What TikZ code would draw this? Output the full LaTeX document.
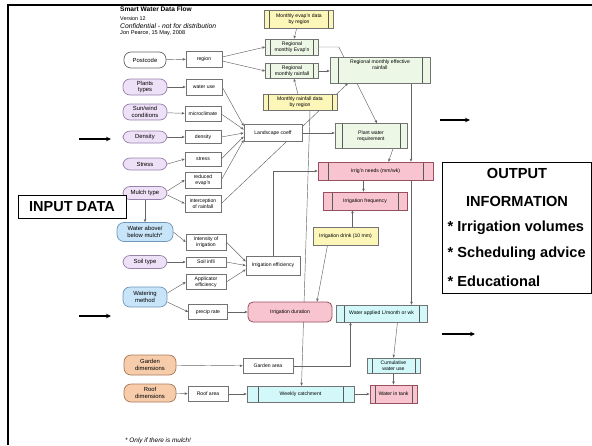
\documentclass[tikz,border=0pt]{standalone}
\usepackage{fontspec}
\setmainfont{Liberation Sans}
\usetikzlibrary{arrows.meta,calc}
\pgfdeclarelayer{bg}
\pgfsetlayers{bg,main}
\definecolor{purpleF}{RGB}{238,224,246}
\definecolor{purpleD}{RGB}{150,130,170}
\definecolor{blueF}{RGB}{200,228,248}
\definecolor{blueD}{RGB}{110,150,185}
\definecolor{orangeF}{RGB}{246,204,170}
\definecolor{orangeD}{RGB}{170,120,90}
\definecolor{pinkF}{RGB}{248,196,208}
\definecolor{pinkD}{RGB}{150,80,95}
\definecolor{greenF}{RGB}{236,247,230}
\definecolor{yellowF}{RGB}{253,246,185}
\definecolor{cyanF}{RGB}{210,248,250}
\definecolor{lineC}{RGB}{100,100,100}
\begin{document}
\begin{tikzpicture}[x=1pt,y=-1pt,
  lbl/.style={font=\fontsize{5.1}{5.9}\selectfont, align=center, inner sep=0.5pt},
  inp/.style={lbl, font=\fontsize{5.9}{6.5}\selectfont, draw=gray!80!black, rounded corners=7pt, minimum width=44pt, minimum height=16pt, line width=0.7pt},
  box/.style={lbl, draw=gray!90!black, fill=white, minimum height=16pt, line width=0.5pt},
  sidebars/.style={path picture={
     \draw[gray!70!black, line width=0.4pt] ([xshift=#1]path picture bounding box.north west) -- ([xshift=#1]path picture bounding box.south west);
     \draw[gray!70!black, line width=0.4pt] ([xshift=-#1]path picture bounding box.north east) -- ([xshift=-#1]path picture bounding box.south east);}},
  conn/.style={-{Stealth[length=3.2pt,width=2.6pt]}, lineC, line width=0.45pt},
  bigarrow/.style={-{Stealth[length=5pt,width=4.5pt]}, black, line width=1.3pt},
  bigtxt/.style={font=\fontsize{14.6}{16}\bfseries\selectfont, inner sep=0pt}
]
\useasboundingbox (0,0) rectangle (592,445);
% frame
\draw[black, line width=2pt] (8,445) -- (8,5) -- (592,5);

% title
\node[anchor=west, inner sep=0pt, font=\fontsize{6.6}{7}\bfseries\selectfont] (t1) at (120,9.5) {Smart Water Data Flow};
\node[anchor=west, inner sep=0pt, font=\fontsize{5.4}{6}\selectfont] (t2) at (120,19) {Version 12};
\node[anchor=west, inner sep=0pt, font=\fontsize{6.8}{7}\itshape\selectfont] (t3) at (120,26.5) {Confidential - not for distribution};
\node[anchor=west, inner sep=0pt, font=\fontsize{5.6}{6}\selectfont] (t4) at (120,33.5) {Jon Pearce, 15 May, 2008};
\node[anchor=west, inner sep=0pt, font=\fontsize{6.4}{7}\itshape\selectfont] (foot) at (125,440.5) {* Only if there is mulch!};

% input nodes
\node[inp, fill=white, minimum width=42pt] (postcode) at (145,60) {Postcode};
\node[inp, fill=purpleF, draw=purpleD] (plants) at (145,87) {Plants\\types};
\node[inp, fill=purpleF, draw=purpleD] (sunwind) at (145,112) {Sun/wind\\conditions};
\node[inp, fill=purpleF, draw=purpleD, minimum height=12pt] (densityIn) at (145,137) {Density};
\node[inp, fill=purpleF, draw=purpleD, minimum height=12pt] (stressIn) at (145,164) {Stress};
\node[inp, fill=purpleF, draw=purpleD, minimum height=13pt] (mulch) at (145,193) {Mulch type};
\node[inp, fill=blueF, draw=blueD, minimum width=56pt, minimum height=19pt] (wab) at (145,232) {Water above/\\below mulch*};
\node[inp, fill=purpleF, draw=purpleD, minimum height=13pt] (soil) at (145,262) {Soil type};
\node[inp, fill=blueF, draw=blueD, minimum height=20pt] (watering) at (145,297) {Watering\\method};
\node[inp, fill=orangeF, draw=orangeD, minimum width=52pt, minimum height=20pt] (gardenIn) at (150,365) {Garden\\dimensions};
\node[inp, fill=orangeF, draw=orangeD, minimum width=52pt, minimum height=18pt] (roofIn) at (150,393) {Roof\\dimensions};

% middle boxes
\node[box, minimum width=36pt] (region) at (204,59) {region};
\node[box, minimum width=36pt] (wateruse) at (204,87) {water use};
\node[box, minimum width=36pt, minimum height=15pt] (micro) at (203,114) {microclimate};
\node[box, minimum width=36pt, minimum height=13pt] (dens) at (203,137) {density};
\node[box, minimum width=36pt, minimum height=14pt] (stressB) at (203,159) {stress};
\node[box, minimum width=36pt] (redev) at (203,180) {reduced\\evap'n};
\node[box, minimum width=36pt, minimum height=17pt] (intercept) at (203,203.5) {interception\\of rainfall};
\node[box, minimum width=40pt] (intensity) at (206,242) {Intensity of\\irrigation};
\node[box, minimum width=40pt, minimum height=10pt] (infil) at (206,262) {Soil infil};
\node[box, minimum width=40pt, minimum height=15pt] (applic) at (206,282) {Applicator\\efficiency};
\node[box, minimum width=39pt, minimum height=15pt] (precip) at (208,312) {precip rate};
\node[box, minimum width=50pt, minimum height=15pt] (gardenarea) at (268,366) {Garden area};
\node[box, minimum width=40pt, minimum height=15pt] (roofarea) at (208,394) {Roof area};
\node[box, minimum width=58pt, minimum height=17pt] (landscape) at (273,133) {Landscape coeff};
\node[box, minimum width=54pt, minimum height=19pt] (irreff) at (273,265.5) {Irrigation efficiency};

% process boxes
\node[box, fill=yellowF, sidebars=5pt, minimum width=69pt, minimum height=18pt] (mevap) at (299,19) {Monthly evap'n data\\by region};
\node[box, fill=greenF, sidebars=5pt, minimum width=53pt, minimum height=16pt] (revap) at (292,47) {Regional\\monthly Evap'n};
\node[box, fill=greenF, sidebars=5pt, minimum width=53pt, minimum height=15pt] (rrain) at (292,71) {Regional\\monthly rainfall};
\node[box, fill=yellowF, sidebars=5pt, minimum width=74pt, minimum height=16pt] (mrain) at (300,102) {Monthly rainfall data\\by region};
\node[box, fill=greenF, sidebars=8pt, minimum width=100pt, minimum height=26pt] (effrain) at (380,70) {Regional monthly effective\\rainfall\\[4pt]};
\node[box, fill=greenF, sidebars=7pt, minimum width=72pt, minimum height=25pt] (pwr) at (371,136) {Plant water\\requirement};
\node[box, fill=pinkF, draw=pinkD, sidebars=10pt, minimum width=115pt, minimum height=18pt] (needs) at (375.5,171) {Irrig'n needs (mm/wk)};
\node[box, fill=pinkF, draw=pinkD, sidebars=9pt, minimum width=84pt, minimum height=18pt] (freq) at (365,201) {Irrigation frequency};
\node[box, fill=yellowF, minimum width=65pt, minimum height=18pt] (drink) at (345.5,236) {Irrigation drink (10 mm)};
\node[box, fill=pinkF, draw=pinkD, rounded corners=5pt, line width=0.8pt, minimum width=84pt, minimum height=20pt] (duration) at (290,312) {Irrigation duration};
\node[box, fill=cyanF, sidebars=8pt, minimum width=91pt, minimum height=17pt] (applied) at (381.5,313.5) {Water applied L/month or wk};
\node[box, fill=cyanF, sidebars=5pt, minimum width=53pt, minimum height=15pt] (cumul) at (393.5,365.5) {Cumulative\\water use};
\node[box, fill=cyanF, sidebars=11pt, minimum width=107pt, minimum height=16pt] (catch) at (300.5,394) {Weekly catchment};
\node[box, fill=pinkF, draw=pinkD, sidebars=5pt, line width=0.8pt, minimum width=47pt, minimum height=18pt] (tank) at (393.5,394) {Water in tank};

% annotation boxes
\node[draw=black, line width=0.8pt, fill=white, minimum width=108pt, minimum height=23pt, inner sep=0pt, font=\fontsize{14.5}{16}\bfseries\selectfont] (inputdata) at (72,206.5) {INPUT DATA};
\node[draw=black, line width=0.8pt, fill=white, minimum width=149pt, minimum height=131pt, inner sep=0pt] (outbox) at (516.5,227.5) {};
\node[bigtxt] (o1) at (517,173) {OUTPUT};
\node[bigtxt] (o2) at (517,201) {INFORMATION};
\node[bigtxt, anchor=west] (o3) at (447.5,228) {* Irrigation volumes};
\node[bigtxt, anchor=west] (o4) at (447.5,254) {* Scheduling advice};
\node[bigtxt, anchor=west] (o5) at (447.5,281) {* Educational};

% big arrows
\coordinate (a1s) at (79,139); \coordinate (a1e) at (111,139);
\coordinate (a2s) at (79,316); \coordinate (a2e) at (111,316);
\coordinate (a3s) at (440,120); \coordinate (a3e) at (470,120);
\coordinate (a4s) at (442,334); \coordinate (a4e) at (475,334);
\draw[bigarrow] (a1s) -- (a1e);
\draw[bigarrow] (a2s) -- (a2e);
\draw[bigarrow] (a3s) -- (a3e);
\draw[bigarrow] (a4s) -- (a4e);

% connectors
\begin{pgfonlayer}{bg}
\draw[conn] (postcode) -- (region);
\draw[conn] (plants) -- (wateruse);
\draw[conn] (sunwind) -- (micro);
\draw[conn] (densityIn) -- (dens);
\draw[conn] (stressIn.east) -- (stressB.west);
\draw[conn] ([yshift=2pt]mulch.east) -- (redev.west);
\draw[conn] ([yshift=-2pt]mulch.east) -- (intercept.west);
\draw[conn] (mulch) -- (wab);
\draw[conn] (wab.east) -- (intensity.west);
\draw[conn] (soil) -- (infil);
\draw[conn] ([yshift=4pt]watering.east) -- (applic.west);
\draw[conn] ([yshift=-5pt]watering.east) -- (precip.west);
\draw[conn] ([yshift=2pt]region.east) -- (revap.west);
\draw[conn] ([yshift=-2pt]region.east) -- (rrain.west);
\draw[conn] (mevap) -- (revap);
\draw[conn] (mrain) -- (rrain);
\draw[conn] (rrain.east) -- (rrain.east -| effrain.west);
\draw[conn] (revap.east) -- ([xshift=20pt]revap.east) -- ([xshift=6pt]pwr.north);
\draw[conn] (intercept.east) -- ([xshift=-32pt]effrain.south);
\draw[conn] ([xshift=31pt]effrain.south) -- ([xshift=31pt]effrain.south |- needs.north);
\draw[conn] ([xshift=22pt]pwr.south) -- ([xshift=13pt]needs.north);
\draw[conn] (landscape.east) -- (landscape.east -| pwr.west);
\draw[conn] (wateruse.east) -- ([yshift=7pt]landscape.west);
\draw[conn] (micro.east) -- ([yshift=3.5pt]landscape.west);
\draw[conn] (dens.east) -- (landscape.west);
\draw[conn] (stressB.east) -- ([yshift=-3.5pt]landscape.west);
\draw[conn] (redev.east) -- ([yshift=-7pt]landscape.west);
\draw[conn] (intensity.east) -- ([yshift=4pt]irreff.west);
\draw[conn] (infil.east) -- (irreff.west);
\draw[conn] (applic.east) -- ([yshift=-4pt]irreff.west);
\draw[conn] (irreff.north) |- (needs.west);
\draw[conn] ([xshift=-12pt]needs.south) -- ([xshift=-12pt]needs.south |- freq.north);
\draw[conn] ([xshift=7pt]drink.north) -- ([xshift=7pt]drink.north |- freq.south);
\draw[conn] ([xshift=-18pt]drink.south) -- ([xshift=27pt]duration.north);
\draw[conn] ([xshift=36pt]needs.south) -- ([xshift=36pt]needs.south |- applied.north);
\draw[conn] ([xshift=10pt]mrain.south) -- ([xshift=1pt]catch.north);
\draw[conn] (precip) -- (duration);
\draw[conn] (gardenIn) -- (gardenarea);
\draw[conn] (gardenarea.east) -| ([xshift=-31pt]applied.south);
\draw[conn] ([xshift=16pt]applied.south) -- (cumul.north);
\draw[conn] (cumul) -- (tank);
\draw[conn] (catch) -- (tank);
\draw[conn] (roofIn) -- (roofarea);
\draw[conn] (roofarea) -- (catch);
\end{pgfonlayer}
\end{tikzpicture}
\end{document}
